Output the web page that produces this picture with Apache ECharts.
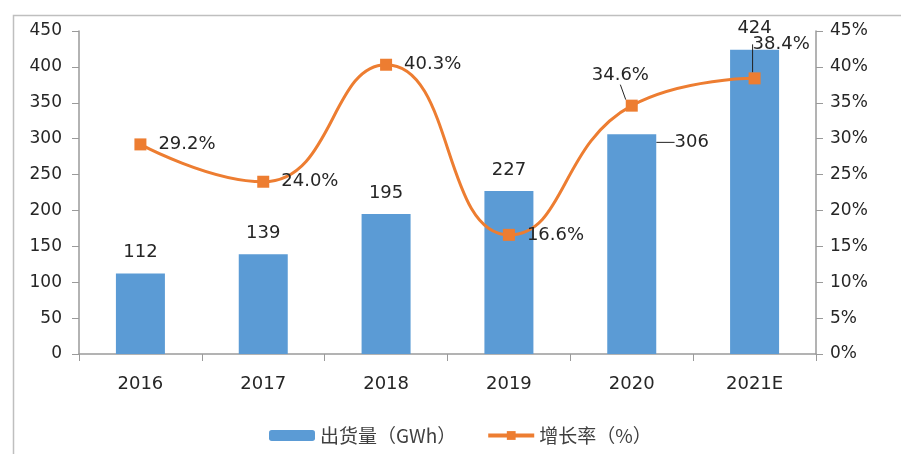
<!DOCTYPE html>
<html>
<head>
<meta charset="utf-8">
<script src="https://cdn.jsdelivr.net/npm/echarts@6/dist/echarts.min.js"></script>
<style>
    html, body { margin: 0; padding: 0; background: #fff; }
    #container { width: 901px; height: 454px; }
</style>
</head>
<body>
<div id="container"></div>
<script>
// 年份
const years = ['2016', '2017', '2018', '2019', '2020', '2021E']
// 出货量（GWh）
const shipments = [112, 139, 195, 227, 306, 424]
// 增长率（%）
const growth = [29.2, 24.0, 40.3, 16.6, 34.6, 38.4]
// 需要引导线的数据点
const leaderBar = [4]
const leaderLine = [4, 5]

const font = 'DejaVu Sans'
const textColor = '#262626'
const axisColor = '#9a9a9a'

let chartDom = document.getElementById('container')
let myChart = echarts.init(chartDom)

const leader = { show: true, lineStyle: { color: '#222', width: 1 } }

let option = {
    animation: false,
    textStyle: { fontFamily: font },
    // 外框
    graphic: [{
        type: 'rect',
        left: 11,
        top: 13,
        shape: { width: 900, height: 460 },
        style: { fill: 'none', stroke: '#bfbfbf', lineWidth: 1.5 },
        silent: true,
    }],
    legend: {
        left: 264,
        top: 421,
        itemWidth: 46,
        itemHeight: 11,
        itemGap: 30,
        textStyle: {
            fontFamily: "'Noto Sans CJK SC', 'DejaVu Sans'",
            fontSize: 19,
            color: '#404040',
        },
        data: [
            { name: '出货量（GWh）' },
            { name: '增长率（%）', lineStyle: { width: 4 } },
        ],
    },
    grid: {
        left: 79,
        right: 85,
        top: 31,
        bottom: 100,
    },
    xAxis: {
        type: 'category',
        data: years,
        axisTick: { show: true, length: 7, lineStyle: { color: axisColor } },
        axisLine: { lineStyle: { color: axisColor, width: 1.5 } },
        axisLabel: { color: textColor, fontSize: 18, margin: 21 },
    },
    yAxis: [
        {
            type: 'value',
            min: 0,
            max: 450,
            interval: 50,
            splitLine: { show: false },
            axisLine: { show: true, lineStyle: { color: axisColor, width: 1.5 } },
            axisTick: { show: true, length: 7, lineStyle: { color: axisColor } },
            axisLabel: { color: textColor, fontSize: 17, margin: 17 },
        },
        {
            type: 'value',
            min: 0,
            max: 45,
            interval: 5,
            splitLine: { show: false },
            axisLine: { show: true, lineStyle: { color: axisColor, width: 1.5 } },
            axisTick: { show: true, length: 7, lineStyle: { color: axisColor } },
            axisLabel: { color: textColor, fontSize: 17, margin: 14, formatter: '{value}%' },
        },
    ],
    series: [
        {
            name: '出货量（GWh）',
            type: 'bar',
            barWidth: 49,
            itemStyle: { color: '#5B9BD5' },
            label: {
                show: true,
                position: 'top',
                distance: 12,
                color: textColor,
                fontSize: 18,
            },
            labelLine: { show: false },
            labelLayout: (params) => {
                if (params.dataIndex === 4) return { dx: 60, dy: 29 }
                return {}
            },
            data: shipments.map((v, i) => leaderBar.includes(i) ? { value: v, labelLine: leader } : v),
        },
        {
            name: '增长率（%）',
            type: 'line',
            yAxisIndex: 1,
            smooth: 0.5,
            symbol: 'rect',
            symbolSize: 12,
            lineStyle: { color: '#ED7D31', width: 3 },
            itemStyle: { color: '#ED7D31' },
            label: {
                show: true,
                position: 'right',
                distance: 12,
                color: textColor,
                fontSize: 18,
                formatter: (p) => p.value.toFixed(1) + '%',
            },
            labelLine: { show: false },
            labelLayout: (params) => {
                if (params.dataIndex === 4) return { dx: -58, dy: -30 }
                if (params.dataIndex === 5) return { dx: -20, dy: -34 }
                return {}
            },
            data: growth.map((v, i) => leaderLine.includes(i) ? { value: v, labelLine: leader } : v),
        },
    ],
}

option && myChart.setOption(option)
</script>
</body>
</html>
